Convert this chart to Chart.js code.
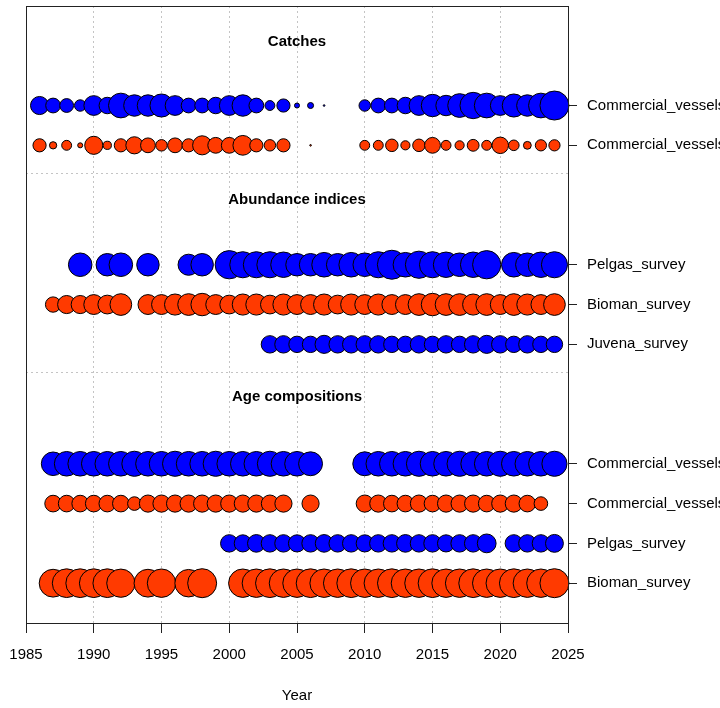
<!DOCTYPE html>
<html lang="en">
<head>
  <meta charset="UTF-8">
  <title>Data by type and year</title>
  <script src="https://cdn.jsdelivr.net/npm/chart.js"></script>
  <style>
    html, body { margin: 0; padding: 0; background: #fff; }
    #wrap { width: 720px; height: 708px; }
  </style>
</head>
<body>
  <div id="wrap"><canvas id="dataChart" width="720" height="708"></canvas></div>

  <script>
    // ---- data ----
    // catches (kt)
    const catchYearsA = [1986, 1987, 1988, 1989, 1990, 1991, 1992, 1993, 1994, 1995, 1996, 1997, 1998, 1999, 2000, 2001, 2002, 2003, 2004, 2005, 2006, 2007,
      2010, 2011, 2012, 2013, 2014, 2015, 2016, 2017, 2018, 2019, 2020, 2021, 2022, 2023, 2024];
    const catchA = [11.7, 7.8, 6.8, 4.7, 13.9, 9.7, 21.8, 16.4, 16.4, 19.0, 13.9, 7.8, 7.8, 9.7, 13.9, 16.4, 7.8, 3.5, 6.2, 0.9, 1.3, 0.1,
      4.7, 7.8, 7.8, 9.7, 13.9, 17.9, 14.9, 20.1, 24.8, 21.8, 13.9, 19.0, 16.4, 21.8, 30.0];
    const catchYearsB = [1986, 1987, 1988, 1989, 1990, 1991, 1992, 1993, 1994, 1995, 1996, 1997, 1998, 1999, 2000, 2001, 2002, 2003, 2004, 2006,
      2010, 2011, 2012, 2013, 2014, 2015, 2016, 2017, 2018, 2019, 2020, 2021, 2022, 2023, 2024];
    const catchB = [6.2, 1.9, 3.5, 0.9, 11.7, 2.4, 6.2, 10.5, 7.8, 4.7, 7.8, 6.2, 13.0, 8.9, 8.9, 13.9, 6.2, 4.7, 6.2, 0.1,
      3.5, 3.5, 5.6, 3.0, 5.6, 8.9, 3.5, 3.0, 5.0, 3.5, 9.7, 4.0, 2.2, 4.5, 4.5];

    // abundance indices (relative)
    const pelgasYears = [1989, 1991, 1992, 1994, 1997, 1998, 2000, 2001, 2002, 2003, 2004, 2005, 2006, 2007, 2008, 2009, 2010, 2011, 2012, 2013,
      2014, 2015, 2016, 2017, 2018, 2019, 2021, 2022, 2023, 2024];
    const pelgasIndex = [66, 60, 66, 60, 53, 60, 95, 81, 81, 81, 77, 60, 60, 72, 60, 72, 66, 81, 100, 72,
      88, 81, 77, 66, 77, 95, 72, 66, 77, 81];
    const biomanYears = [1987, 1988, 1989, 1990, 1991, 1992, 1994, 1995, 1996, 1997, 1998, 1999, 2000, 2001, 2002, 2003, 2004, 2005, 2006, 2007,
      2008, 2009, 2010, 2011, 2012, 2013, 2014, 2015, 2016, 2017, 2018, 2019, 2020, 2021, 2022, 2023, 2024];
    const biomanIndex = [28, 39, 39, 47, 42, 56, 47, 47, 53, 56, 60, 47, 42, 53, 53, 42, 53, 47, 47, 53,
      42, 53, 47, 53, 47, 47, 56, 60, 56, 56, 53, 56, 47, 56, 53, 47, 56];
    const juvenaYears = [2003, 2004, 2005, 2006, 2007, 2008, 2009, 2010, 2011, 2012, 2013, 2014, 2015, 2016, 2017, 2018, 2019, 2020, 2021, 2022,
      2023, 2024];
    const juvenaIndex = [36, 36, 32, 32, 39, 36, 36, 36, 36, 32, 32, 36, 32, 36, 32, 36, 39, 36, 32, 36, 32, 32];

    // age compositions (sample size)
    const ageYearsA = [1987, 1988, 1989, 1990, 1991, 1992, 1993, 1994, 1995, 1996, 1997, 1998, 1999, 2000, 2001, 2002, 2003, 2004, 2005, 2006,
      2010, 2011, 2012, 2013, 2014, 2015, 2016, 2017, 2018, 2019, 2020, 2021, 2022, 2023, 2024];
    const ageNA = [66, 72, 72, 72, 72, 72, 75, 72, 72, 75, 72, 72, 75, 72, 72, 72, 75, 72, 72, 68,
      68, 72, 72, 72, 75, 72, 72, 75, 72, 72, 75, 72, 72, 72, 75];
    const ageYearsB = [1987, 1988, 1989, 1990, 1991, 1992, 1993, 1994, 1995, 1996, 1997, 1998, 1999, 2000, 2001, 2002, 2003, 2004, 2006,
      2010, 2011, 2012, 2013, 2014, 2015, 2016, 2017, 2018, 2019, 2020, 2021, 2022, 2023];
    const ageNB = [33, 33, 33, 33, 33, 33, 22, 35, 35, 35, 35, 35, 35, 35, 35, 35, 35, 35, 35,
      35, 35, 33, 33, 35, 33, 35, 35, 35, 33, 35, 35, 33, 22];
    const pelgasAgeYears = [2000, 2001, 2002, 2003, 2004, 2005, 2006, 2007, 2008, 2009, 2010, 2011, 2012, 2013, 2014, 2015, 2016, 2017, 2018, 2019,
      2021, 2022, 2023, 2024];
    const pelgasAgeN = [36, 35, 37, 36, 36, 35, 36, 37, 36, 36, 35, 36, 36, 37, 36, 36, 35, 36, 36, 42,
      36, 36, 36, 38];
    const biomanAgeYears = [1987, 1988, 1989, 1990, 1991, 1992, 1994, 1995, 1997, 1998, 2001, 2002, 2003, 2004, 2005, 2006, 2007, 2008, 2009, 2010,
      2011, 2012, 2013, 2014, 2015, 2016, 2017, 2018, 2019, 2020, 2021, 2022, 2023, 2024];
    const biomanAgeN = [92, 98, 98, 98, 98, 95, 92, 96, 90, 100, 96, 96, 98, 96, 96, 98, 96, 96, 98, 96,
      96, 98, 96, 96, 98, 96, 96, 98, 96, 96, 98, 96, 96, 100];

    const xTicks = { min: 1985, max: 2025, step: 5 };

    // ---- styling ----
    const BLUE = '#0000ff';
    const RED = '#ff3a00';
    const FONT = '"Liberation Sans", Arial, sans-serif';
    const R_MAX = 14.5;

    // panels listed bottom to top, rows bottom to top
    const panels = [
      { title: 'Age compositions', rows: [
        { label: 'Bioman_survey', color: RED, years: biomanAgeYears, values: biomanAgeN },
        { label: 'Pelgas_survey', color: BLUE, years: pelgasAgeYears, values: pelgasAgeN },
        { label: 'Commercial_vessels', color: RED, years: ageYearsB, values: ageNB },
        { label: 'Commercial_vessels', color: BLUE, years: ageYearsA, values: ageNA }
      ] },
      { title: 'Abundance indices', rows: [
        { label: 'Juvena_survey', color: BLUE, years: juvenaYears, values: juvenaIndex },
        { label: 'Bioman_survey', color: RED, years: biomanYears, values: biomanIndex },
        { label: 'Pelgas_survey', color: BLUE, years: pelgasYears, values: pelgasIndex }
      ] },
      { title: 'Catches', rows: [
        { label: 'Commercial_vessels', color: RED, years: catchYearsB, values: catchB },
        { label: 'Commercial_vessels', color: BLUE, years: catchYearsA, values: catchA }
      ] }
    ];

    // lay rows out on the y axis, bubble area proportional to value within a panel
    const datasets = [];
    const rowTicks = [];
    const titles = [];
    const separators = [];
    let base = 1;
    panels.forEach((p, pi) => {
      const pmax = Math.max(...p.rows.flatMap(r => r.values));
      p.rows.forEach((r, ri) => {
        const y = base + ri;
        rowTicks.push({ y: y, label: r.label });
        datasets.push({
          label: r.label,
          data: r.years.map((yr, i) => ({ x: yr, y: y, r: R_MAX * Math.sqrt(r.values[i] / pmax) })),
          backgroundColor: r.color,
          borderColor: '#000',
          borderWidth: 1,
          clip: false
        });
      });
      const top = base + p.rows.length - 1;
      titles.push({ y: top + 1.55 + 0.03 * p.rows.length, text: p.title });
      if (pi < panels.length - 1) separators.push(top + 2.3);
      base = top + 3;
    });
    const Y_MAX = base - 0.5;

    const decor = {
      id: 'decor',
      beforeDatasetsDraw(chart) {
        const { ctx, chartArea: a, scales: { y } } = chart;
        ctx.save();
        ctx.strokeStyle = '#c4c4c4';
        ctx.lineWidth = 1;
        ctx.setLineDash([2, 3]);
        separators.forEach(v => {
          const py = Math.round(y.getPixelForValue(v)) + 0.5;
          ctx.beginPath();
          ctx.moveTo(a.left, py);
          ctx.lineTo(a.right, py);
          ctx.stroke();
        });
        ctx.restore();
      },
      afterDraw(chart) {
        const { ctx, chartArea: a, scales: { y } } = chart;
        ctx.save();
        ctx.fillStyle = '#000';
        ctx.font = 'bold 15px ' + FONT;
        ctx.textAlign = 'center';
        ctx.textBaseline = 'middle';
        titles.forEach(t => ctx.fillText(t.text, (a.left + a.right) / 2, y.getPixelForValue(t.y)));
        // box around the plot region
        ctx.strokeStyle = '#222';
        ctx.lineWidth = 1;
        ctx.strokeRect(a.left + 0.5, a.top + 0.5, a.right - a.left, a.bottom - a.top);
        ctx.restore();
      }
    };

    new Chart(document.getElementById('dataChart').getContext('2d'), {
      type: 'bubble',
      data: { datasets: datasets },
      plugins: [decor],
      options: {
        responsive: false,
        animation: false,
        events: [],
        layout: { autoPadding: false, padding: { left: 26, top: 6, right: 0, bottom: 0 } },
        plugins: { legend: { display: false }, tooltip: { enabled: false } },
        scales: {
          x: {
            type: 'linear',
            min: xTicks.min,
            max: xTicks.max,
            afterFit: s => { s.height = 85; s.paddingLeft = 0; s.paddingRight = 0; },
            ticks: {
              stepSize: xTicks.step,
              autoSkip: false,
              maxRotation: 0,
              padding: 13,
              color: '#000',
              font: { family: FONT, size: 15 },
              callback: v => String(v)
            },
            grid: {
              color: c => (c.tick && (c.tick.value === xTicks.min || c.tick.value === xTicks.max)) ? 'rgba(0,0,0,0)' : '#c4c4c4',
              lineWidth: 1,
              tickColor: '#222',
              tickLength: 10
            },
            border: { color: '#222', width: 1, dash: [2, 3] },
            title: {
              display: true,
              text: 'Year',
              color: '#000',
              font: { family: FONT, size: 15 },
              padding: { top: 0, bottom: 3 }
            }
          },
          y: {
            type: 'linear',
            position: 'right',
            min: 0,
            max: Y_MAX,
            afterFit: s => { s.width = 152; s.paddingTop = 0; s.paddingBottom = 0; },
            afterBuildTicks: s => { s.ticks = rowTicks.map(t => ({ value: t.y })); },
            ticks: {
              autoSkip: false,
              padding: 10,
              color: '#000',
              font: { family: FONT, size: 15 },
              callback: (v, i) => rowTicks[i] ? rowTicks[i].label : ''
            },
            grid: { drawOnChartArea: false, tickColor: '#222', tickLength: 9 },
            border: { color: '#222', width: 1 }
          }
        }
      }
    });
  </script>
</body>
</html>
